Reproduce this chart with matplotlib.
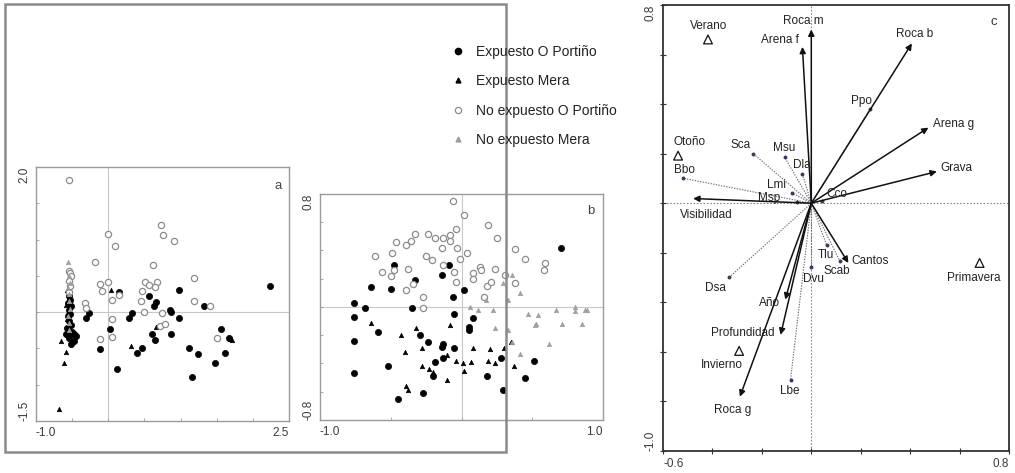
import matplotlib
matplotlib.use("Agg")
import matplotlib.pyplot as plt
from matplotlib.patches import Rectangle
from matplotlib.lines import Line2D

plt.rcParams['font.family'] = ['Liberation Sans', 'DejaVu Sans']

# ---------------- data ----------------
group_names = ["Expuesto O Portiño", "Expuesto Mera", "No expuesto O Portiño", "No expuesto Mera"]

# panel a
a_exp_port_x = [2.24, 0.98, 0.15, 0.57, 0.66, 0.63, 0.86, 0.87, 0.98, 0.33, 0.28, -0.26, -0.31, 0.03, 0.60, 0.64,
                0.87, 1.32, 1.56, 1.67, -0.11, 0.40, 0.46, 1.11, 1.24, 1.61, 1.48, 0.12, 1.16,
                -0.55, -0.53, -0.56, -0.52, -0.55, -0.53, -0.56, -0.54, -0.52, -0.57, -0.50, -0.47, -0.45, -0.55, -0.58, -0.48, -0.52]
a_exp_port_y = [0.36, 0.31, 0.28, 0.22, 0.14, 0.08, 0.03, 0.00, -0.08, -0.01, -0.08, -0.01, -0.08, -0.23, -0.30, -0.38,
                -0.30, 0.08, -0.23, -0.36, -0.51, -0.56, -0.49, -0.49, -0.58, -0.56, -0.70, -0.79, -0.90,
                0.22, 0.17, 0.12, 0.08, 0.03, -0.02, -0.06, -0.12, -0.18, -0.22, -0.27, -0.30, -0.33, -0.35, -0.30, -0.40, -0.44]
a_exp_mera_x = [-0.56, -0.57, -0.55, -0.58, -0.56, -0.57, -0.55, -0.52, -0.66, -0.58, -0.61, -0.68, 0.04, 0.31, 0.66, 1.71, 1.69]
a_exp_mera_y = [0.45, 0.30, 0.20, 0.10, 0.00, -0.10, -0.20, -0.30, -0.40, -0.55, -0.70, -1.34, 0.31, -0.47, -0.20, -0.38, -0.37]
a_noexp_port_x = [-0.55, 0.00, 0.09, -0.19, 0.73, 0.75, 0.91, 0.62, 1.19, -0.12, -0.09, -0.01, -0.32, -0.31, 0.05, 0.15,
                  0.51, 0.57, 0.67, 0.64, 0.46, 0.45, 0.50, 0.74, 1.19, 1.41, 0.05, 0.05, -0.11, 0.71, 0.79, 1.51,
                  -0.55, -0.53, -0.51, -0.54, -0.53, -0.55]
a_noexp_port_y = [1.82, 1.08, 0.91, 0.69, 1.20, 1.06, 0.98, 0.65, 0.47, 0.39, 0.29, 0.42, 0.13, 0.06, 0.17, 0.24,
                  0.41, 0.38, 0.42, 0.34, 0.29, 0.16, 0.00, -0.01, 0.15, 0.09, -0.10, -0.34, -0.37, -0.19, -0.17, -0.35,
                  0.57, 0.54, 0.50, 0.43, 0.36, 0.28]
a_noexp_mera_x = [-0.56, -0.55, -0.53, -0.56, -0.54, -0.55, -0.53, -0.56, -0.54, -0.55]
a_noexp_mera_y = [0.69, 0.50, 0.40, 0.33, 0.25, 0.15, 0.05, -0.05, -0.15, -0.25]

# panel b
b_exp_port_x = [0.70, -0.48, -0.09, -0.14, -0.33, -0.64, -0.50, -0.06, 0.02, -0.76, -0.68, -0.35, -0.76, -0.05, 0.08,
                -0.59, -0.76, -0.29, -0.24, 0.05, 0.05, -0.13, -0.14, -0.05, -0.13, -0.19, -0.20, -0.52, -0.76, -0.45,
                -0.27, 0.18, 0.29, 0.28, 0.45, 0.51]
b_exp_port_y = [0.42, 0.30, 0.30, 0.23, 0.19, 0.14, 0.13, 0.07, 0.12, 0.03, -0.01, -0.01, -0.07, -0.05, -0.08,
                -0.18, -0.24, -0.20, -0.25, -0.14, -0.16, -0.26, -0.28, -0.29, -0.36, -0.39, -0.49, -0.42, -0.47, -0.65,
                -0.61, -0.49, -0.59, -0.36, -0.50, -0.38]
b_exp_mera_x = [-0.64, -0.43, -0.32, -0.08, -0.40, -0.28, -0.10, -0.04, 0.01, 0.02, 0.07, 0.08, 0.20, 0.30, 0.19,
                0.24, 0.37, -0.28, -0.23, -0.20, -0.10, -0.39, -0.38, 0.35]
b_exp_mera_y = [-0.11, -0.20, -0.15, -0.13, -0.32, -0.29, -0.34, -0.38, -0.40, -0.45, -0.39, -0.29, -0.30, -0.29, -0.38,
                -0.40, -0.42, -0.42, -0.44, -0.46, -0.52, -0.56, -0.59, -0.25]
b_noexp_port_x = [-0.06, 0.02, 0.19, -0.33, -0.24, -0.19, -0.13, -0.08, -0.04, -0.08, -0.36, -0.46, -0.39, 0.25,
                  -0.49, -0.61, -0.14, -0.03, 0.04, -0.25, -0.21, -0.01, 0.38, 0.45, 0.59, 0.58, -0.56, -0.50, -0.48,
                  -0.38, -0.13, -0.05, 0.08, 0.08, 0.13, 0.14, 0.24, 0.31, 0.38, -0.39, -0.34, -0.04, 0.18, 0.21,
                  0.16, -0.27, -0.27]
b_noexp_port_y = [0.75, 0.65, 0.58, 0.52, 0.52, 0.49, 0.49, 0.51, 0.55, 0.47, 0.47, 0.46, 0.44, 0.49,
                  0.38, 0.36, 0.42, 0.42, 0.38, 0.36, 0.33, 0.34, 0.41, 0.34, 0.31, 0.26, 0.25, 0.22, 0.26,
                  0.27, 0.30, 0.25, 0.24, 0.20, 0.28, 0.26, 0.27, 0.23, 0.17, 0.12, 0.16, 0.18, 0.15, 0.18,
                  0.07, 0.07, -0.01]
b_noexp_mera_x = [0.36, 0.29, 0.41, 0.33, 0.06, 0.12, 0.22, 0.47, 0.54, 0.67, 0.80, 0.80, 0.87, 0.89, 0.53, 0.52,
                  0.71, 0.85, 0.24, 0.33, 0.36, 0.41, 0.62, 0.17]
b_noexp_mera_y = [0.23, 0.17, 0.10, 0.05, 0.00, -0.02, -0.02, -0.05, -0.06, -0.02, 0.00, -0.03, -0.02, -0.02, -0.12,
                  -0.13, -0.12, -0.12, -0.15, -0.16, -0.25, -0.33, -0.26, 0.05]

# panel c
env_names = ["Roca m", "Arena f", "Roca b", "Arena g", "Grava", "Visibilidad", "Cantos", "Año", "Profundidad", "Roca g"]
env_x = [0.000, -0.036, 0.407, 0.474, 0.508, -0.478, 0.150, -0.105, -0.124, -0.289]
env_y = [0.701, 0.631, 0.645, 0.305, 0.128, 0.019, -0.241, -0.389, -0.531, -0.781]

spp_names = ["Sca", "Msu", "Dla", "Lmi", "Msp", "Bbo", "Cco", "Ppo", "Dsa", "Tlu", "Scab", "Dvu", "Lbe"]
spp_x = [-0.235, -0.107, -0.036, -0.080, -0.059, -0.519, 0.042, 0.238, -0.332, 0.062, 0.116, 0.000, -0.084]
spp_y = [0.200, 0.185, 0.118, 0.043, 0.005, 0.101, 0.009, 0.380, -0.299, -0.169, -0.234, -0.257, -0.713]

season_names = ["Verano", "Otoño", "Primavera", "Invierno"]
season_x = [-0.418, -0.539, 0.681, -0.292]
season_y = [0.661, 0.192, -0.241, -0.596]

# label offsets (pixels, +x right, +y down)
env_off = [(-8, -9), (-22, -7), (3, -9), (25, -4), (20, -4), (13, 16), (22, -2), (-16, 3), (-38, -2), (-7, 13)]
spp_off = [(-13, -9), (-1, -9), (-1, -9), (-15, -8), (-28, -4), (1, -8), (15, -7), (-9, -8), (-14, 11), (-1, 10),
           (-3, 10), (2, 12), (-1, 11)]
season_off = [(1, -13), (11, -14), (-6, 15), (-17, 14)]

# ---------------- figure ----------------
W, H = 1015, 473
fig = plt.figure(figsize=(W / 100, H / 100), dpi=100)


def box(l, t, r, b):
    return [l / W, 1 - b / H, (r - l) / W, (b - t) / H]


fig.patches.append(Rectangle((5 / W, 1 - 452 / H), 501 / W, 448 / H, transform=fig.transFigure,
                             fill=False, ec='#8a8a8a', lw=1.8))

styles = [
    dict(marker='o', s=20, c='black', edgecolors='black', linewidths=0.5),
    dict(marker='^', s=10, c='black', edgecolors='black', linewidths=0.5),
    dict(marker='o', s=20, facecolors='white', edgecolors='#8c8c8c', linewidths=0.9),
    dict(marker='^', s=10, c='#a0a0a0', edgecolors='#a0a0a0', linewidths=0.5),
]


def end_labels(ax, xt, yt):
    ax.set_xticks(xt)
    ax.set_yticks(yt)
    xl = ax.set_xticklabels([f"{v:.1f}" if i in (0, len(xt) - 1) else "" for i, v in enumerate(xt)])
    yl = ax.set_yticklabels([f"{v:.1f}" if i in (0, len(yt) - 1) else "" for i, v in enumerate(yt)], rotation=90)
    xl[0].set_ha('left')
    xl[-1].set_ha('right')
    yl[0].set_va('bottom')
    yl[-1].set_va('top')


def scatter_panel(ax, series, xlim, ylim, xt, yt, letter):
    ax.set_xlim(*xlim)
    ax.set_ylim(*ylim)
    ax.axhline(0, color='#c8c8c8', lw=0.8, zorder=0)
    ax.axvline(0, color='#c8c8c8', lw=0.8, zorder=0)
    for (xs, ys), st in zip(series, styles):
        ax.scatter(xs, ys, zorder=3, **st)
    for sp in ax.spines.values():
        sp.set_color('#9a9a9a')
        sp.set_linewidth(1.0)
    end_labels(ax, xt, yt)
    ax.tick_params(direction='in', length=2.5, width=0.6, color='#9a9a9a', labelsize=8.5,
                   labelcolor='#3a3a3a', pad=4)
    ax.text(0.97, 0.95, letter, transform=ax.transAxes, ha='right', va='top', fontsize=9.5, color='#444444')


axa = fig.add_axes(box(36, 167, 289, 421))
scatter_panel(axa, [(a_exp_port_x, a_exp_port_y), (a_exp_mera_x, a_exp_mera_y),
                    (a_noexp_port_x, a_noexp_port_y), (a_noexp_mera_x, a_noexp_mera_y)],
              (-1.0, 2.5), (-1.5, 2.0),
              [-1.0, -0.5, 0.0, 0.5, 1.0, 1.5, 2.0, 2.5],
              [-1.5, -1.0, -0.5, 0.0, 0.5, 1.0, 1.5, 2.0], 'a')

axb = fig.add_axes(box(320, 194, 603, 420))
scatter_panel(axb, [(b_exp_port_x, b_exp_port_y), (b_exp_mera_x, b_exp_mera_y),
                    (b_noexp_port_x, b_noexp_port_y), (b_noexp_mera_x, b_noexp_mera_y)],
              (-1.0, 1.0), (-0.8, 0.8),
              [-1.0, -0.5, 0.0, 0.5, 1.0],
              [-0.8, -0.6, -0.4, -0.2, 0.0, 0.2, 0.4, 0.6, 0.8], 'b')

# legend
handles = [Line2D([], [], ls='none', marker='o', ms=4.5, mfc='black', mec='black'),
           Line2D([], [], ls='none', marker='^', ms=3.5, mfc='black', mec='black'),
           Line2D([], [], ls='none', marker='o', ms=4.5, mfc='white', mec='#8c8c8c', mew=0.9),
           Line2D([], [], ls='none', marker='^', ms=3.5, mfc='#a0a0a0', mec='#a0a0a0')]
fig.legend(handles, group_names, loc='upper left', bbox_to_anchor=(451 / W, 1 - 45 / H),
           frameon=False, fontsize=10, handlelength=1.0, handletextpad=0.8, labelspacing=1.1,
           labelcolor='#222222', borderaxespad=0, borderpad=0)

# panel c
axc = fig.add_axes(box(663, 5, 1009, 451))
axc.set_xlim(-0.6, 0.8)
axc.set_ylim(-1.0, 0.8)
axc.axhline(0, color='#888888', lw=0.8, ls=(0, (1.5, 1.5)), zorder=0)
axc.axvline(0, color='#888888', lw=0.8, ls=(0, (1.5, 1.5)), zorder=0)

for name, x, y, (dx, dy) in zip(env_names, env_x, env_y, env_off):
    axc.annotate('', xy=(x, y), xytext=(0, 0),
                 arrowprops=dict(arrowstyle='-|>', color='#111111', lw=1.1, mutation_scale=9,
                                 shrinkA=0, shrinkB=0))
    axc.annotate(name, xy=(x, y), xytext=(dx * 0.72, -dy * 0.72), textcoords='offset points',
                 ha='center', va='center', fontsize=8.5, color='#222222')

for name, x, y, (dx, dy) in zip(spp_names, spp_x, spp_y, spp_off):
    axc.plot([0, x], [0, y], ls=(0, (1.2, 1.2)), color='#6a6a7a', lw=0.8, zorder=1)
    axc.plot([x], [y], ls='none', marker='o', ms=1.8, color='#3a3a5a', zorder=2)
    axc.annotate(name, xy=(x, y), xytext=(dx * 0.72, -dy * 0.72), textcoords='offset points',
                 ha='center', va='center', fontsize=8.5, color='#222222')

axc.scatter(season_x, season_y, marker='^', s=40, facecolors='none', edgecolors='#111111', linewidths=0.9, zorder=3)
for name, x, y, (dx, dy) in zip(season_names, season_x, season_y, season_off):
    axc.annotate(name, xy=(x, y), xytext=(dx * 0.72, -dy * 0.72), textcoords='offset points',
                 ha='center', va='center', fontsize=8.5, color='#222222')

for sp in axc.spines.values():
    sp.set_color('#333333')
    sp.set_linewidth(1.3)
end_labels(axc, [-0.6, -0.4, -0.2, 0.0, 0.2, 0.4, 0.6, 0.8],
           [-1.0, -0.8, -0.6, -0.4, -0.2, 0.0, 0.2, 0.4, 0.6, 0.8])
axc.tick_params(direction='inout', length=4, width=0.8, color='#333333', labelsize=8.5, labelcolor='#3a3a3a', pad=3)
axc.text(0.965, 0.975, 'c', transform=axc.transAxes, ha='right', va='top', fontsize=9.5, color='#333333')

fig.savefig('out.png', dpi=100)
